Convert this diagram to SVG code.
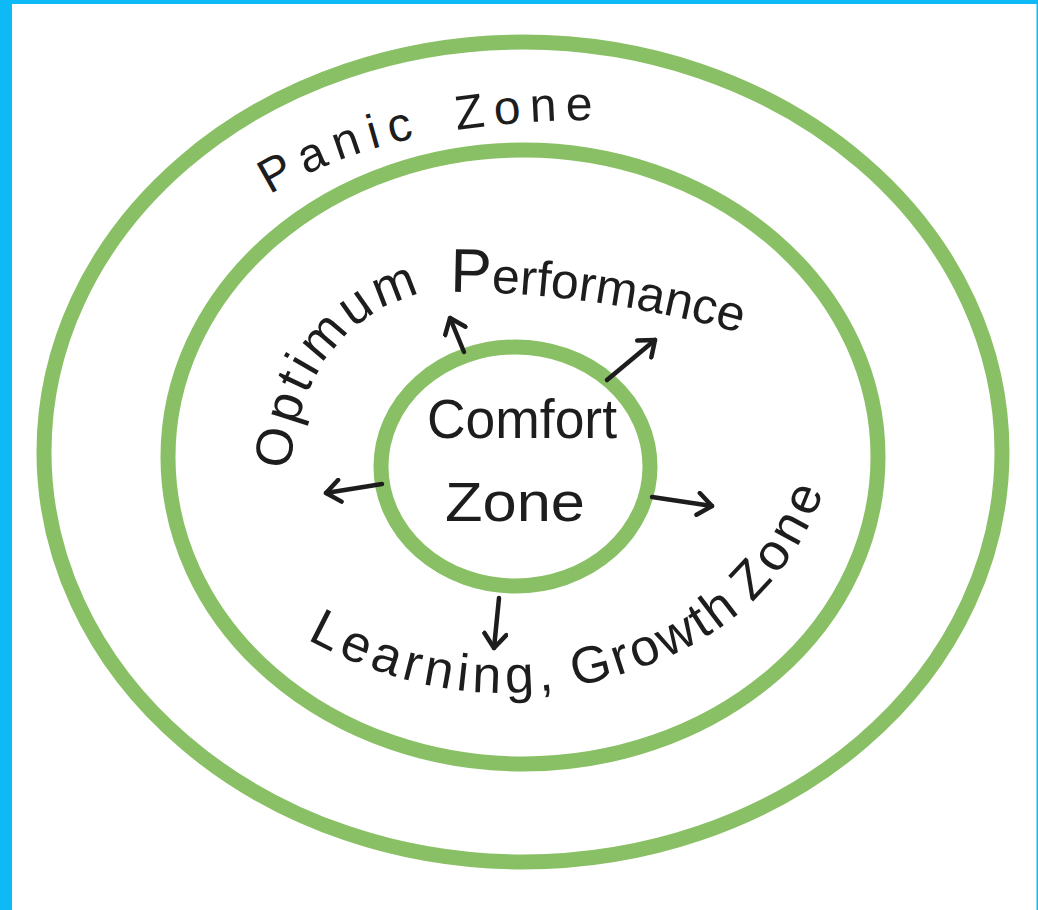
<svg xmlns="http://www.w3.org/2000/svg" width="1038" height="910" viewBox="0 0 1038 910">
<style>
.zone{fill:none;stroke:#8AC065;stroke-width:15}
.lbl{font-family:"Liberation Sans","DejaVu Sans",sans-serif;fill:#1d1d1d}
.arrow{fill:none;stroke:#1d1d1d;stroke-width:4.5;stroke-linecap:round;marker-end:url(#head)}
</style>
<defs>
<marker id="head" viewBox="-18 -13 22 26" markerWidth="22" markerHeight="26" refX="0" refY="0" orient="auto" markerUnits="userSpaceOnUse">
<path d="M -14,-11 L 0,0 L -14,11" fill="none" stroke="#1d1d1d" stroke-width="4.5" stroke-linecap="round" stroke-linejoin="round"/>
</marker>
<path id="p-panic" d="M 270,195 Q 390,118 615,120"/>
<path id="p-optimum" d="M 290,472 C 300,330 400,275 500,290"/>
<path id="p-performance" d="M 450,292 Q 600,292 755,337"/>
<path id="p-growth" d="M 305,638 Q 470,730 640,668 Q 790,615 832,466"/>
</defs>
<rect x="0" y="0" width="1038" height="910" fill="#0EBAF5"/>
<rect x="12" y="4" width="1024.5" height="906" fill="#ffffff"/>
<g id="panic-zone">
<ellipse class="zone" cx="523" cy="452" rx="479" ry="410"/>
<text class="lbl" font-size="48" letter-spacing="9" word-spacing="12"><textPath href="#p-panic">Panic Zone</textPath></text>
</g>
<g id="growth-zone">
<ellipse class="zone" cx="523" cy="457" rx="355" ry="307"/>
<text class="lbl" font-size="52" letter-spacing="4"><textPath href="#p-optimum" startOffset="2">Optimum</textPath></text>
<text class="lbl" font-size="50"><textPath href="#p-performance"><tspan font-size="62">P</tspan>erformance</textPath></text>
<text class="lbl" font-size="52" letter-spacing="5"><textPath href="#p-growth" startOffset="2">Learning,</textPath></text>
<text class="lbl" font-size="52" letter-spacing="3"><textPath href="#p-growth" startOffset="280">Growth</textPath></text>
<text class="lbl" font-size="52" letter-spacing="5"><textPath href="#p-growth" startOffset="478">Zone</textPath></text>
</g>
<g id="comfort-zone">
<ellipse class="zone" cx="515.5" cy="466.5" rx="134.5" ry="119.5"/>
<text class="lbl" font-size="56" x="522" y="438" text-anchor="middle" textLength="190" lengthAdjust="spacingAndGlyphs">Comfort</text>
<text class="lbl" font-size="56" x="515" y="521" text-anchor="middle" textLength="140" lengthAdjust="spacingAndGlyphs">Zone</text>
</g>
<g id="connectors">
<path class="arrow" d="M 464,352 L 450,318"/>
<path class="arrow" d="M 607,380 L 655,340"/>
<path class="arrow" d="M 382,484 L 326,493"/>
<path class="arrow" d="M 652,497 L 712,506"/>
<path class="arrow" d="M 499,598 L 494,648"/>
</g>
</svg>
